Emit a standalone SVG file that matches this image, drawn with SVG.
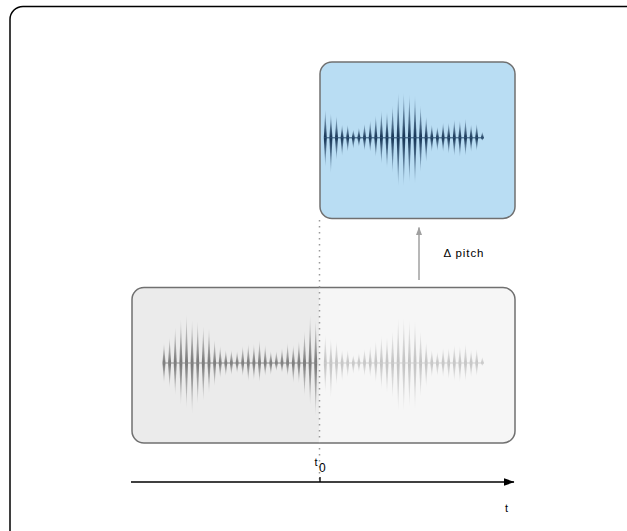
<svg xmlns="http://www.w3.org/2000/svg" xmlns:xlink="http://www.w3.org/1999/xlink" width="627" height="531" viewBox="0 0 627 531">
<style>
.lbl{font-family:"Liberation Sans",Arial,sans-serif;fill:#000;}
.box{stroke:#707070;stroke-width:1.5;}
</style>
<defs>
<linearGradient id="upBlue" x1="0" y1="1" x2="0" y2="0"><stop offset="0" stop-color="#133253"/><stop offset="1" stop-color="#133253" stop-opacity="0.15"/></linearGradient>
<linearGradient id="dnBlue" x1="0" y1="0" x2="0" y2="1"><stop offset="0" stop-color="#133253"/><stop offset="1" stop-color="#133253" stop-opacity="0.15"/></linearGradient>
<linearGradient id="upGray" x1="0" y1="1" x2="0" y2="0"><stop offset="0" stop-color="#777"/><stop offset="1" stop-color="#777" stop-opacity="0.12"/></linearGradient>
<linearGradient id="dnGray" x1="0" y1="0" x2="0" y2="1"><stop offset="0" stop-color="#777"/><stop offset="1" stop-color="#777" stop-opacity="0.12"/></linearGradient>
<linearGradient id="upLight" x1="0" y1="1" x2="0" y2="0"><stop offset="0" stop-color="#c2c2c2"/><stop offset="1" stop-color="#c2c2c2" stop-opacity="0.18"/></linearGradient>
<linearGradient id="dnLight" x1="0" y1="0" x2="0" y2="1"><stop offset="0" stop-color="#c2c2c2"/><stop offset="1" stop-color="#c2c2c2" stop-opacity="0.18"/></linearGradient>
<marker id="arrBlack" viewBox="0 0 11 8" refX="10.5" refY="4" markerWidth="11" markerHeight="8" markerUnits="userSpaceOnUse" orient="auto"><path d="M0,0 L11,4 L0,8 Z" fill="#000"/></marker>
<marker id="arrGray" viewBox="0 0 8 6" refX="7.5" refY="3" markerWidth="8" markerHeight="6" markerUnits="userSpaceOnUse" orient="auto"><path d="M0,0 L8,3 L0,6 Z" fill="#a0a0a0"/></marker>
<g id="wA-up">
<polygon points="323.8,0 325.3,-28 326.8,0"/><polygon points="329.4,0 330.9,-24 332.4,0"/><polygon points="335,0 336.5,-22 338,0"/><polygon points="340.6,0 342.1,-13 343.6,0"/><polygon points="346.2,0 347.7,-13 349.2,0"/><polygon points="351.8,0 353.3,-8 354.8,0"/><polygon points="357.4,0 358.9,-10 360.4,0"/><polygon points="363,0 364.5,-14 366,0"/><polygon points="368.7,0 370.2,-17 371.7,0"/><polygon points="374.3,0 375.8,-22 377.3,0"/><polygon points="379.9,0 381.4,-27 382.9,0"/><polygon points="385.5,0 387,-26 388.5,0"/><polygon points="391.1,0 392.6,-32 394.1,0"/><polygon points="396.7,0 398.2,-45 399.7,0"/><polygon points="402.3,0 403.8,-45 405.3,0"/><polygon points="407.9,0 409.4,-43 410.9,0"/><polygon points="413.5,0 415,-42 416.5,0"/><polygon points="419.1,0 420.6,-32 422.1,0"/><polygon points="424.7,0 426.2,-21 427.7,0"/><polygon points="430.3,0 431.8,-13 433.3,0"/><polygon points="435.9,0 437.4,-11 438.9,0"/><polygon points="441.6,0 443.1,-15 444.6,0"/><polygon points="447.2,0 448.7,-15 450.2,0"/><polygon points="452.8,0 454.3,-18 455.8,0"/><polygon points="458.4,0 459.9,-17 461.4,0"/><polygon points="464,0 465.5,-19 467,0"/><polygon points="469.6,0 471.1,-13 472.6,0"/><polygon points="475.2,0 476.7,-14 478.2,0"/><polygon points="480.8,0 482.3,-6 483.8,0"/>
</g>
<g id="wA-dn">
<polygon points="323.8,0 325.3,29 326.8,0"/><polygon points="329.4,0 330.9,35 332.4,0"/><polygon points="335,0 336.5,22 338,0"/><polygon points="340.6,0 342.1,18 343.6,0"/><polygon points="346.2,0 347.7,14 349.2,0"/><polygon points="351.8,0 353.3,11 354.8,0"/><polygon points="357.4,0 358.9,9 360.4,0"/><polygon points="363,0 364.5,13 366,0"/><polygon points="368.7,0 370.2,14 371.7,0"/><polygon points="374.3,0 375.8,19 377.3,0"/><polygon points="379.9,0 381.4,26 382.9,0"/><polygon points="385.5,0 387,30 388.5,0"/><polygon points="391.1,0 392.6,35 394.1,0"/><polygon points="396.7,0 398.2,48 399.7,0"/><polygon points="402.3,0 403.8,48 405.3,0"/><polygon points="407.9,0 409.4,44 410.9,0"/><polygon points="413.5,0 415,46 416.5,0"/><polygon points="419.1,0 420.6,34 422.1,0"/><polygon points="424.7,0 426.2,24 427.7,0"/><polygon points="430.3,0 431.8,14 433.3,0"/><polygon points="435.9,0 437.4,13 438.9,0"/><polygon points="441.6,0 443.1,14 444.6,0"/><polygon points="447.2,0 448.7,16 450.2,0"/><polygon points="452.8,0 454.3,18 455.8,0"/><polygon points="458.4,0 459.9,19 461.4,0"/><polygon points="464,0 465.5,18 467,0"/><polygon points="469.6,0 471.1,14 472.6,0"/><polygon points="475.2,0 476.7,13 478.2,0"/><polygon points="480.8,0 482.3,3 483.8,0"/>
</g>
</defs>

<rect x="10" y="6.5" width="700" height="600" rx="13" fill="#fff" stroke="#000" stroke-width="1.5"/>

<g id="original-signal">
<path d="M144,287.5 H319.5 V443 H144 A12,12 0 0 1 132,431 V299.5 A12,12 0 0 1 144,287.5 Z" fill="#ebebeb"/>
<path d="M319.5,287.5 H503 A12,12 0 0 1 515,299.5 V431 A12,12 0 0 1 503,443 H319.5 Z" fill="#f6f6f6"/>
<rect class="box" x="132" y="287.5" width="383" height="155.5" rx="12" fill="none"/>
<g fill="url(#upGray)">
<polygon points="162.5,363 164,343 165.5,363"/><polygon points="168.1,363 169.6,337 171.1,363"/><polygon points="173.7,363 175.2,327 176.7,363"/><polygon points="179.4,363 180.9,319 182.4,363"/><polygon points="185,363 186.5,314 188,363"/><polygon points="190.6,363 192.1,320 193.6,363"/><polygon points="196.2,363 197.7,321 199.2,363"/><polygon points="201.8,363 203.3,326 204.8,363"/><polygon points="207.5,363 209,328 210.5,363"/><polygon points="213.1,363 214.6,340 216.1,363"/><polygon points="218.7,363 220.2,346 221.7,363"/><polygon points="224.3,363 225.8,350 227.3,363"/><polygon points="229.9,363 231.4,350 232.9,363"/><polygon points="235.6,363 237.1,351 238.6,363"/><polygon points="241.2,363 242.7,346 244.2,363"/><polygon points="246.8,363 248.3,344 249.8,363"/><polygon points="252.4,363 253.9,344 255.4,363"/><polygon points="258,363 259.5,340 261,363"/><polygon points="263.7,363 265.2,345 266.7,363"/><polygon points="269.3,363 270.8,351 272.3,363"/><polygon points="274.9,363 276.4,351 277.9,363"/><polygon points="280.5,363 282,348 283.5,363"/><polygon points="286.1,363 287.6,343 289.1,363"/><polygon points="291.8,363 293.3,345 294.8,363"/><polygon points="297.4,363 298.9,341 300.4,363"/><polygon points="303,363 304.5,331 306,363"/><polygon points="308.6,363 310.1,315 311.6,363"/><polygon points="314.2,363 315.7,320 317.2,363"/>
</g>
<g fill="url(#dnGray)">
<polygon points="162.5,363 164,383 165.5,363"/><polygon points="168.1,363 169.6,388 171.1,363"/><polygon points="173.7,363 175.2,395 176.7,363"/><polygon points="179.4,363 180.9,405 182.4,363"/><polygon points="185,363 186.5,408 188,363"/><polygon points="190.6,363 192.1,414 193.6,363"/><polygon points="196.2,363 197.7,404 199.2,363"/><polygon points="201.8,363 203.3,401 204.8,363"/><polygon points="207.5,363 209,393 210.5,363"/><polygon points="213.1,363 214.6,386 216.1,363"/><polygon points="218.7,363 220.2,378 221.7,363"/><polygon points="224.3,363 225.8,376 227.3,363"/><polygon points="229.9,363 231.4,375 232.9,363"/><polygon points="235.6,363 237.1,373 238.6,363"/><polygon points="241.2,363 242.7,376 244.2,363"/><polygon points="246.8,363 248.3,381 249.8,363"/><polygon points="252.4,363 253.9,380 255.4,363"/><polygon points="258,363 259.5,382 261,363"/><polygon points="263.7,363 265.2,376 266.7,363"/><polygon points="269.3,363 270.8,375 272.3,363"/><polygon points="274.9,363 276.4,371 277.9,363"/><polygon points="280.5,363 282,373 283.5,363"/><polygon points="286.1,363 287.6,376 289.1,363"/><polygon points="291.8,363 293.3,383 294.8,363"/><polygon points="297.4,363 298.9,383 300.4,363"/><polygon points="303,363 304.5,396 306,363"/><polygon points="308.6,363 310.1,405 311.6,363"/><polygon points="314.2,363 315.7,416 317.2,363"/>
</g>
<line x1="163" y1="363" x2="317" y2="363" stroke="#8a8a8a" stroke-width="1"/>
<use xlink:href="#wA-up" href="#wA-up" transform="translate(0,363)" fill="url(#upLight)"/>
<use xlink:href="#wA-dn" href="#wA-dn" transform="translate(0,363)" fill="url(#dnLight)"/>
<line x1="324" y1="363" x2="484" y2="363" stroke="#cfcfcf" stroke-width="1"/>
</g>

<g id="pitched-segment">
<rect class="box" x="320" y="62" width="195" height="156.5" rx="12" fill="#b9ddf3"/>
<use xlink:href="#wA-up" href="#wA-up" transform="translate(0,137.8)" fill="url(#upBlue)"/>
<use xlink:href="#wA-dn" href="#wA-dn" transform="translate(0,137.8)" fill="url(#dnBlue)"/>
<line x1="324" y1="137.8" x2="484" y2="137.8" stroke="#2b4d70" stroke-width="1"/>
</g>

<g id="connectors">
<line x1="319.5" y1="220" x2="319.5" y2="480" stroke="#9a9a9a" stroke-width="1.5" stroke-dasharray="1.6 4.4"/>
<line x1="419" y1="280" x2="419" y2="227.5" stroke="#a0a0a0" stroke-width="1.5" marker-end="url(#arrGray)"/>
</g>

<g id="time-axis">
<line x1="131" y1="482" x2="514" y2="482" stroke="#000" stroke-width="1.3" marker-end="url(#arrBlack)"/>
<line x1="320" y1="477" x2="320" y2="482" stroke="#000" stroke-width="1.3"/>
<text class="lbl" x="314.5" y="466" font-size="11">t<tspan x="319" y="472" font-size="12">0</tspan></text>
<text class="lbl" x="505" y="512" font-size="11">t</text>
</g>

<g id="labels">
<text class="lbl" x="443.5" y="257" font-size="11.5" letter-spacing="0.9">Δ pitch</text>
</g>
</svg>
